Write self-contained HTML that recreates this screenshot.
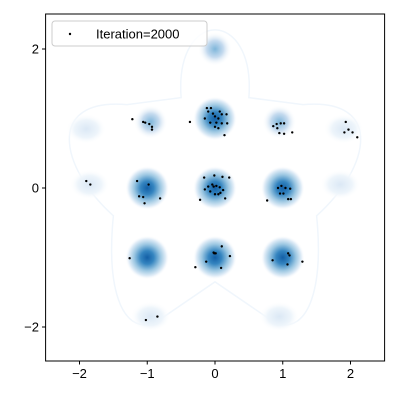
<!DOCTYPE html>
<html><head><meta charset="utf-8"><style>
body{margin:0;background:#fff}
svg text{font-family:"Liberation Sans",sans-serif;font-size:13px;fill:#000}
</style></head><body>
<svg width="400" height="400" xmlns="http://www.w3.org/2000/svg">
<defs>
<radialGradient id="gs"><stop offset="0" stop-color="#135fa6"/><stop offset="0.3" stop-color="#3585c0"/><stop offset="0.6" stop-color="#9cc7e2"/><stop offset="0.85" stop-color="#e3eef8"/><stop offset="1" stop-color="#fff" stop-opacity="0"/></radialGradient>
<radialGradient id="gm"><stop offset="0" stop-color="#7fb6da"/><stop offset="0.5" stop-color="#c6dbef"/><stop offset="1" stop-color="#fff" stop-opacity="0"/></radialGradient>
<radialGradient id="gf"><stop offset="0" stop-color="#dbe8f5"/><stop offset="0.6" stop-color="#eef5fb"/><stop offset="1" stop-color="#fff" stop-opacity="0"/></radialGradient>
<clipPath id="clip"><rect x="45.6" y="14" width="339" height="347"/></clipPath>
</defs>
<g id="plot" clip-path="url(#clip)"></g>
<rect x="45.6" y="14" width="339" height="347" fill="none" stroke="#000" stroke-width="1"/>
<g id="axes"></g>
<g>
<rect x="52" y="21" width="155" height="25" rx="3" fill="#fff" fill-opacity="0.8" stroke="#ccc"/>
<circle cx="70" cy="34" r="1.2" fill="#000"/>
<text x="96" y="38.5">Iteration=2000</text>
</g>
</svg>
<script>
const strongCenters=[[0,1],[-1,0],[0,0],[1,0],[-1,-1],[0,-1],[1,-1]];
const mediumCenters=[[0,2],[-0.95,0.95],[0.95,0.95]];
const faintCenters=[[-1.9,0.85],[1.9,0.85],[-1.85,0.05],[1.85,0.05],[-0.95,-1.85],[0.95,-1.85]];
const ptsX=[-0.12,-0.06,-0.10,-0.03,0.07,0.10,0.17,-0.15,0.0,0.05,-0.07,0.02,0.10,0.18,0,0.05,0.14,-0.37,
-1.22,-1.06,-1.03,-0.97,-0.93,-0.93,
0.86,0.91,0.97,1.02,0.92,0.95,1.02,1.14,
1.93,1.91,1.97,2.03,2.10,-1.90,-1.84,
-1.15,-0.98,-1.12,-1.06,-1.04,-0.81,
-0.01,-0.16,0.11,0.21,-0.04,0.02,-0.02,0.07,-0.15,0.12,-0.07,0,0.05,0.08,-0.22,0.15,-0.10,
0.98,1.04,1.11,0.93,0.96,1.01,1.08,1.12,0.77,
-1.26,-1.02,-0.85,
-0.02,0.01,-0.01,0.10,0.22,-0.13,-0.29,0.09,
1.08,1.10,0.85,1.07,1.29];
const ptsY=[1.15,1.15,1.10,1.07,1.10,1.06,1.06,1.00,1.03,1.00,0.94,0.94,0.93,0.93,0.88,0.86,0.76,0.95,
0.99,0.95,0.94,0.92,0.88,0.84,
0.89,0.92,0.93,0.93,0.86,0.79,0.78,0.80,
0.95,0.80,0.84,0.80,0.73,0.10,0.05,
0.10,0.05,-0.12,-0.13,-0.22,-0.15,
0.18,0.15,0.16,0.15,0.05,0.03,0.02,0.01,-0.02,-0.03,-0.05,-0.09,-0.09,-0.07,-0.17,-0.15,0.02,
0.03,0.00,-0.01,0.00,-0.08,-0.08,-0.16,-0.16,-0.18,
-1.01,-1.90,-1.85,
-0.93,-0.94,-0.94,-0.84,-0.98,-1.06,-1.14,-1.15,
-0.94,-0.97,-1.04,-1.10,-1.06];
const xTicks=[-2,-1,0,1,2];
const yTicks=[-2,0,2];
const NS='http://www.w3.org/2000/svg';
const X=v=>215+v*67.75, Y=v=>188-v*69.5;
const plot=document.getElementById('plot'), axes=document.getElementById('axes');
function mk(tag,attrs,parent){const e=document.createElementNS(NS,tag);for(const k in attrs)e.setAttribute(k,attrs[k]);parent.appendChild(e);return e;}
const star=mk('path',{d:'M'+X(-0.5)+','+Y(1.3)+' C'+X(-0.6)+','+Y(2.6)+' '+X(0.6)+','+Y(2.6)+' '+X(0.5)+','+Y(1.3)+
' L'+X(1.3)+','+Y(1.2)+' C'+X(2.5)+','+Y(1.3)+' '+X(2.3)+','+Y(0.3)+' '+X(1.5)+','+Y(-0.4)+
' C'+X(1.6)+','+Y(-1.4)+' '+X(1.4)+','+Y(-2.1)+' '+X(0.9)+','+Y(-1.95)+' L'+X(0)+','+Y(-1.35)+
' L'+X(-0.9)+','+Y(-1.95)+' C'+X(-1.4)+','+Y(-2.1)+' '+X(-1.6)+','+Y(-1.4)+' '+X(-1.5)+','+Y(-0.4)+
' C'+X(-2.3)+','+Y(0.3)+' '+X(-2.5)+','+Y(1.3)+' '+X(-1.3)+','+Y(1.2)+' Z',fill:'none',stroke:'#f0f6fc','stroke-width':1.5},plot);


faintCenters.forEach(c=>{const e=mk('ellipse',{cx:X(c[0]),cy:Y(c[1]),rx:20,ry:15,fill:'url(#gf)'},plot);

});
mediumCenters.forEach(c=>{const e=mk('circle',{cx:X(c[0]),cy:Y(c[1]),r:17,fill:'url(#gm)'},plot);

});
strongCenters.forEach(c=>{const e=mk('circle',{cx:X(c[0]),cy:Y(c[1]),r:22,fill:'url(#gs)'},plot);

});
ptsX.forEach((v,i)=>{const e=mk('circle',{cx:X(v),cy:Y(ptsY[i]),r:1.2,fill:'#000'},plot);

});
xTicks.forEach(t=>{const x=X(t);mk('line',{x1:x,x2:x,y1:361,y2:364.5,stroke:'#000'},axes);
const tx=mk('text',{x:x,y:378,'text-anchor':'middle'},axes);tx.textContent=(t<0?'\u2212':'')+Math.abs(t);

});
yTicks.forEach(t=>{const y=Y(t);mk('line',{x1:45.6,x2:42,y1:y,y2:y,stroke:'#000'},axes);
const tx=mk('text',{x:39,y:y+4.5,'text-anchor':'end'},axes);tx.textContent=(t<0?'\u2212':'')+Math.abs(t);

});
</script>
</body></html>
